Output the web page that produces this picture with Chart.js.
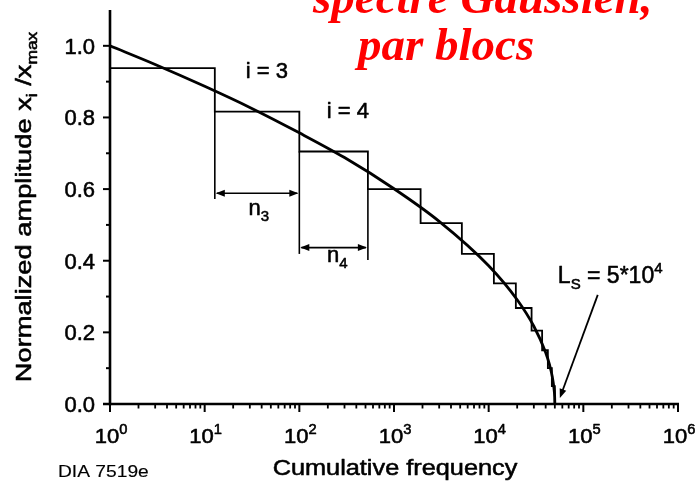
<!DOCTYPE html>
<html>
<head>
<meta charset="utf-8">
<script src="https://cdn.jsdelivr.net/npm/chart.js@4/dist/chart.umd.min.js"></script>
<style>
  html, body { margin: 0; padding: 0; background: #fff; }
  #wrap { width: 695px; height: 483px; position: relative; }
</style>
</head>
<body>
<div id="wrap"><canvas id="chart-1"></canvas></div>
<script>
// ================= DADOS =================
const curveX = [1, 3, 10, 30, 100, 300, 1000, 3000, 10000, 20000, 30000, 40000, 44000, 47000, 49000, 49800, 50000];
const curveY = [1.0, 0.948, 0.887, 0.828, 0.757, 0.688, 0.601, 0.51, 0.386, 0.291, 0.217, 0.144, 0.109, 0.076, 0.043, 0.019, 0];

const stepX = [1, 12.8, 100, 530, 1910, 5210, 11350, 19370, 28400, 36700, 42200, 46500, 50000];
const stepY = [0.938, 0.816, 0.705, 0.600, 0.505, 0.419, 0.337, 0.268, 0.205, 0.150, 0.100, 0.050, 0];

const yTicks = [0, 0.2, 0.4, 0.6, 0.8, 1.0];
const xDecades = [0, 1, 2, 3, 4, 5, 6];

const SANS = '"Liberation Sans", Arial, sans-serif';

// ================= TEXTO COM SUB/SUP =================
function rich(ctx, parts, x, y, align, sx, stroke) {
  sx = sx || 1;
  stroke = stroke === undefined ? 0.55 : stroke;
  let w = 0;
  const ws = parts.map(p => {
    ctx.font = p[1] + "px " + SANS;
    const m = ctx.measureText(p[0]).width;
    w += m;
    return m;
  });
  let start = x;
  if (align === "center") start = x - w * sx / 2;
  if (align === "right") start = x - w * sx;
  ctx.save();
  ctx.translate(start, y);
  ctx.scale(sx, 1);
  ctx.textAlign = "left";
  ctx.textBaseline = "alphabetic";
  ctx.lineWidth = stroke;
  ctx.lineJoin = "round";
  let cx = 0;
  parts.forEach((p, i) => {
    ctx.font = p[1] + "px " + SANS;
    ctx.fillText(p[0], cx, p[2] || 0);
    if (stroke > 0) ctx.strokeText(p[0], cx, p[2] || 0);
    cx += ws[i];
  });
  ctx.restore();
}

function arrowHead(ctx, x0, y0, x1, y1) {
  const a = Math.atan2(y1 - y0, x1 - x0);
  const L = 9, H = 3.5;
  ctx.beginPath();
  ctx.moveTo(x1, y1);
  ctx.lineTo(x1 - L * Math.cos(a) + H * Math.sin(a), y1 - L * Math.sin(a) - H * Math.cos(a));
  ctx.lineTo(x1 - L * Math.cos(a) - H * Math.sin(a), y1 - L * Math.sin(a) + H * Math.cos(a));
  ctx.closePath();
  ctx.fill();
}

function line(ctx, x0, y0, x1, y1, w) {
  ctx.lineWidth = w;
  ctx.beginPath();
  ctx.moveTo(x0, y0);
  ctx.lineTo(x1, y1);
  ctx.stroke();
}

// ================= EIXOS E ANOTACOES =================
const decoracao = {
  id: "decoracao",
  afterDraw(chart) {
    const ctx = chart.ctx;
    const xs = chart.scales.x, ys = chart.scales.y;
    const px = v => xs.getPixelForValue(v);
    const py = v => ys.getPixelForValue(v);
    const area = chart.chartArea;

    ctx.save();
    ctx.strokeStyle = "#000";
    ctx.fillStyle = "#000";
    ctx.lineCap = "butt";

    // eixos
    line(ctx, area.left, area.top, area.left, area.bottom + 1.2, 2.6);
    line(ctx, area.left - 7, area.bottom, area.right + 1, area.bottom, 2.6);

    // ticks y
    for (let k = 0; k <= 10; k++) {
      const v = k / 10;
      const major = k % 2 === 0;
      line(ctx, area.left - (major ? 7 : 4), py(v), area.left, py(v), 2);
    }
    yTicks.forEach(v => {
      rich(ctx, [[v.toFixed(1), 22]], area.left - 15, py(v) + 8, "right");
    });

    // ticks x
    xDecades.forEach(d => {
      const base = Math.pow(10, d);
      line(ctx, px(base), area.bottom, px(base), area.bottom + 8, 2);
      if (d < 6) {
        for (let m = 2; m <= 9; m++) {
          line(ctx, px(base * m), area.bottom, px(base * m), area.bottom + 4.5, 1.8);
        }
      }
      rich(ctx, [["10", 21], [String(d), 14, -9]], px(base) + 1, 443, "center", 1.05);
    });

    // titulos dos eixos
    rich(ctx, [["Cumulative frequency", 22]], (area.left + area.right) / 2 + 1, 475, "center", 1.15);
    ctx.save();
    ctx.translate(31, 207);
    ctx.rotate(-Math.PI / 2);
    rich(ctx, [["Normalized amplitude x", 22], ["i", 14, 6], [" /x", 22], ["max", 14, 6]], 0, 0, "center", 1.24);
    ctx.restore();
    rich(ctx, [["DIA 7519e", 16]], 58, 477, "left", 1.2, 0.15);

    // i = 3, i = 4
    rich(ctx, [["i = 3", 22]], px(45.5), py(0.9106), "center");
    rich(ctx, [["i = 4", 22]], px(326), py(0.799), "center");

    // linhas de n3 / n4
    line(ctx, px(12.8), py(0.816), px(12.8), py(0.5726), 1.6);
    line(ctx, px(100), py(0.705), px(100), py(0.419), 1.6);
    line(ctx, px(530), py(0.600), px(530), py(0.402), 1.6);

    // setas duplas
    const a3 = py(0.5885), a4 = py(0.4366);
    line(ctx, px(12.8) + 2, a3, px(100) - 2, a3, 1.6);
    arrowHead(ctx, px(50), a3, px(12.8) + 1, a3);
    arrowHead(ctx, px(20), a3, px(100) - 1, a3);
    line(ctx, px(100) + 2, a4, px(530) - 2, a4, 1.6);
    arrowHead(ctx, px(300), a4, px(100) + 1, a4);
    arrowHead(ctx, px(150), a4, px(530) - 1, a4);

    rich(ctx, [["n", 22], ["3", 15, 6]], px(37.4), py(0.528), "center");
    rich(ctx, [["n", 22], ["4", 15, 6]], px(252), py(0.3966), "center");

    // L_s
    rich(ctx, [["L", 23], ["S", 15, 6], [" = 5*10", 23], ["4", 15, -10]], px(53800), py(0.338), "left");
    const ax0 = px(142000), ay0 = py(0.3045), ax1 = px(56500), ay1 = py(0.0168);
    line(ctx, ax0, ay0, ax1 + (ax0 - ax1) * 0.06, ay1 + (ay0 - ay1) * 0.06, 1.8);
    arrowHead(ctx, ax0, ay0, ax1, ay1);

    // titulo vermelho
    ctx.fillStyle = "#ff0000";
    ctx.font = 'bold italic 47px "Liberation Serif", "Times New Roman", serif';
    ctx.textAlign = "left";
    ctx.textBaseline = "alphabetic";
    ctx.fillText("spectre Gaussien,", 313, 13);
    ctx.fillText("par blocs", 358, 60);

    ctx.restore();
  }
};

new Chart(document.getElementById("chart-1"), {
  type: "scatter",
  data: {
    datasets: [
      {
        label: "curva",
        data: curveX.map((x, i) => ({ x: x, y: curveY[i] })),
        showLine: true,
        borderColor: "#000",
        borderWidth: 2.8,
        pointRadius: 0,
        cubicInterpolationMode: "monotone"
      },
      {
        label: "blocos",
        data: stepX.map((x, i) => ({ x: x, y: stepY[i] })),
        showLine: true,
        stepped: "before",
        borderColor: "#000",
        borderWidth: 1.8,
        pointRadius: 0
      }
    ]
  },
  options: {
    responsive: true,
    maintainAspectRatio: false,
    animation: false,
    events: [],
    layout: { padding: { top: 10, right: 17, left: 0, bottom: 0 } },
    plugins: { legend: { display: false }, tooltip: { enabled: false } },
    scales: {
      x: {
        type: "logarithmic",
        min: 1,
        max: 1e6,
        ticks: { display: false },
        grid: { display: false },
        border: { display: false },
        afterFit: s => { s.height = 79; }
      },
      y: {
        type: "linear",
        min: 0,
        max: 1.1,
        ticks: { display: false },
        grid: { display: false },
        border: { display: false },
        afterFit: s => { s.width = 110; }
      }
    }
  },
  plugins: [decoracao]
});
</script>
</body>
</html>
